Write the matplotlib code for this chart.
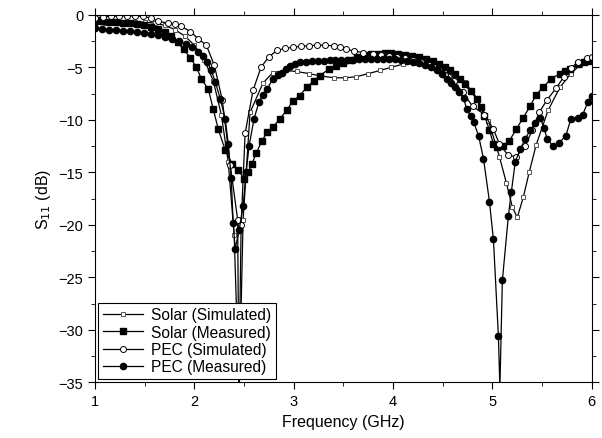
import matplotlib
matplotlib.use("Agg")
import matplotlib.pyplot as plt
from matplotlib.ticker import MultipleLocator

plt.rcParams['font.family'] = ['Liberation Sans', 'DejaVu Sans']

# Solar (Simulated) - open squares
f_solar_sim = [1.0, 1.1, 1.2, 1.3, 1.4, 1.5, 1.6, 1.7, 1.8, 1.9, 2.0, 2.1, 2.19, 2.27, 2.34,
               2.40, 2.45, 2.49, 2.56, 2.69, 2.79, 2.91, 3.03, 3.15, 3.26, 3.40, 3.52, 3.63,
               3.75, 3.87, 3.98, 4.1, 4.22, 4.34, 4.46, 4.6, 4.72, 4.84, 4.96, 5.07, 5.14,
               5.20, 5.25, 5.31, 5.37, 5.44, 5.56, 5.68, 5.79, 5.88, 5.97]
s_solar_sim = [-0.8, -0.75, -0.7, -0.65, -0.65, -0.7, -0.8, -1.0, -1.4, -2.0, -2.9, -4.3, -6.3,
               -9.5, -14.0, -21.0, -36.0, -19.5, -9.3, -6.5, -5.5, -5.3, -5.4, -5.6, -5.8, -6.0,
               -6.0, -5.9, -5.6, -5.3, -5.0, -4.7, -4.6, -4.8, -5.2, -5.8, -6.4, -7.9, -10.1,
               -13.5, -16.0, -18.3, -19.3, -17.4, -15.0, -12.4, -9.1, -6.9, -5.6, -4.8, -4.2]

# Solar (Measured) - filled squares
f_solar_meas = [1.0, 1.07, 1.14, 1.21, 1.28, 1.35, 1.42, 1.49, 1.56, 1.63, 1.70, 1.76, 1.83,
                1.89, 1.96, 2.02, 2.07, 2.14, 2.19, 2.24, 2.31, 2.38, 2.44, 2.50, 2.54, 2.58,
                2.62, 2.68, 2.73, 2.79, 2.86, 2.93, 2.99, 3.06, 3.13, 3.20, 3.26, 3.35, 3.43,
                3.50, 3.57, 3.64, 3.71, 3.78, 3.85, 3.92, 3.98, 4.05, 4.12, 4.19, 4.26, 4.33,
                4.40, 4.46, 4.52, 4.57, 4.62, 4.67, 4.72, 4.78, 4.84, 4.88, 4.92, 4.97, 5.01,
                5.05, 5.11, 5.17, 5.24, 5.31, 5.38, 5.44, 5.51, 5.59, 5.68, 5.73, 5.78, 5.86,
                5.92, 5.96, 6.0]
s_solar_meas = [-0.6, -0.6, -0.65, -0.7, -0.75, -0.8, -0.9, -1.0, -1.15, -1.35, -1.6, -2.0,
                -2.6, -3.3, -4.1, -5.0, -6.1, -7.1, -9.0, -10.9, -12.9, -14.2, -14.8, -15.6,
                -15.0, -14.2, -13.2, -12.0, -11.2, -10.7, -9.9, -9.1, -8.2, -7.7, -6.9, -6.3,
                -5.8, -5.2, -4.9, -4.6, -4.3, -4.0, -3.85, -3.75, -3.7, -3.65, -3.6, -3.7,
                -3.8, -3.9, -4.0, -4.2, -4.4, -4.7, -5.0, -5.3, -5.6, -6.1, -6.6, -7.3, -8.0,
                -8.8, -9.6, -11.0, -12.3, -12.6, -12.5, -12.0, -10.9, -9.8, -8.7, -7.6, -6.9,
                -6.1, -5.6, -5.4, -5.2, -4.7, -4.5, -4.4, -4.3]

# PEC (Simulated) - open circles
f_pec_sim = [1.0, 1.08, 1.16, 1.24, 1.32, 1.40, 1.48, 1.56, 1.63, 1.73, 1.80, 1.86, 1.96, 2.04,
             2.12, 2.20, 2.28, 2.36, 2.435, 2.447, 2.47, 2.51, 2.59, 2.67, 2.75, 2.83, 2.91,
             2.99, 3.07, 3.15, 3.23, 3.31, 3.40, 3.47, 3.53, 3.61, 3.70, 3.80, 3.88, 3.96,
             4.04, 4.12, 4.20, 4.28, 4.36, 4.44, 4.52, 4.61, 4.70, 4.80, 4.92, 5.01, 5.07,
             5.16, 5.24, 5.33, 5.40, 5.47, 5.55, 5.64, 5.72, 5.79, 5.86, 5.95, 6.0]
s_pec_sim = [-0.3, -0.2, -0.15, -0.1, -0.1, -0.1, -0.15, -0.3, -0.6, -0.8, -0.9, -1.05, -1.6,
             -2.3, -2.9, -4.8, -8.1, -14.3, -19.5, -35.5, -20.0, -11.3, -7.2, -5.0, -4.0, -3.4,
             -3.2, -3.1, -3.0, -2.95, -2.9, -2.9, -2.95, -3.1, -3.3, -3.45, -3.6, -3.75,
             -3.85, -3.95, -4.05, -4.15, -4.3, -4.5, -4.8, -5.2, -5.7, -6.3, -7.4, -8.7,
             -9.5, -10.9, -12.3, -13.4, -13.5, -12.5, -11.0, -9.3, -8.1, -7.0, -5.9, -5.1,
             -4.5, -4.1, -4.0]

# PEC (Measured) - filled circles
f_pec_meas = [1.0, 1.07, 1.14, 1.21, 1.28, 1.35, 1.42, 1.49, 1.56, 1.63, 1.70, 1.77, 1.84,
              1.91, 1.98, 2.04, 2.09, 2.13, 2.17, 2.21, 2.26, 2.31, 2.34, 2.37, 2.39, 2.41,
              2.45, 2.49, 2.52, 2.55, 2.60, 2.65, 2.69, 2.73, 2.79, 2.84, 2.88, 2.92, 2.96,
              3.01, 3.06, 3.12, 3.18, 3.24, 3.30, 3.36, 3.42, 3.48, 3.54, 3.60, 3.66, 3.72,
              3.78, 3.84, 3.90, 3.96, 4.02, 4.08, 4.14, 4.20, 4.26, 4.32, 4.38, 4.44, 4.49,
              4.54, 4.58, 4.62, 4.66, 4.71, 4.74, 4.78, 4.81, 4.86, 4.91, 4.97, 5.01, 5.06,
              5.075, 5.10, 5.16, 5.19, 5.23, 5.28, 5.33, 5.38, 5.43, 5.48, 5.52, 5.55, 5.61,
              5.67, 5.74, 5.79, 5.86, 5.91, 5.96, 6.0]
s_pec_meas = [-1.3, -1.35, -1.4, -1.45, -1.5, -1.55, -1.6, -1.7, -1.8, -1.95, -2.1, -2.3,
              -2.5, -2.8, -3.1, -3.5, -3.9, -4.5, -5.3, -6.4, -8.0, -9.9, -12.3, -15.5,
              -19.8, -22.3, -20.5, -18.2, -15.0, -12.5, -9.9, -8.3, -7.6, -7.1, -6.1, -5.7,
              -5.5, -5.2, -4.9, -4.7, -4.5, -4.45, -4.4, -4.4, -4.4, -4.35, -4.3, -4.3,
              -4.3, -4.3, -4.25, -4.2, -4.2, -4.2, -4.2, -4.2, -4.25, -4.3, -4.4, -4.5,
              -4.6, -4.8, -5.0, -5.3, -5.6, -6.1, -6.5, -6.9, -7.4, -7.9, -9.0, -9.6, -10.2,
              -11.5, -13.7, -17.8, -21.4, -30.6, -35.5, -25.3, -19.2, -16.9, -14.0, -12.8,
              -11.8, -11.0, -10.3, -9.8, -10.8, -11.8, -12.5, -12.2, -11.5, -9.9, -9.8,
              -9.5, -8.3, -7.7]

fig = plt.figure(figsize=(6.02, 4.39), dpi=100)
ax = fig.add_axes([0.158, 0.127, 0.825, 0.837])

ax.plot(f_solar_sim, s_solar_sim, '-s', color='black', lw=0.9, ms=3.2,
        mfc='white', mec='#555555', mew=0.7, label='Solar (Simulated)')
ax.plot(f_solar_meas, s_solar_meas, '-s', color='black', lw=0.9, ms=4.3,
        mfc='black', mec='black', label='Solar (Measured)')
ax.plot(f_pec_sim, s_pec_sim, '-o', color='black', lw=0.9, ms=4.3,
        mfc='white', mec='black', mew=0.7, label='PEC (Simulated)')
ax.plot(f_pec_meas, s_pec_meas, '-o', color='black', lw=0.9, ms=4.5,
        mfc='black', mec='black', label='PEC (Measured)')

ax.set_xlim(1, 6)
ax.set_ylim(-35, 0)
ax.xaxis.set_major_locator(MultipleLocator(1))
ax.xaxis.set_minor_locator(MultipleLocator(0.5))
ax.yaxis.set_major_locator(MultipleLocator(5))
ax.yaxis.set_minor_locator(MultipleLocator(2.5))
ax.tick_params(which='both', direction='out', top=True, right=True,
               labeltop=False, labelright=False, labelsize=10.5)
ax.tick_params(which='major', length=5)
ax.tick_params(which='minor', length=3)

ax.set_xlabel('Frequency (GHz)', fontsize=11.5)
ax.set_ylabel('S$_{11}$ (dB)', fontsize=11.5)

leg = ax.legend(loc='lower left', fontsize=11.2, fancybox=False, framealpha=1,
                edgecolor='black', handlelength=2.6, borderaxespad=0.2,
                labelspacing=0.15, borderpad=0.3, handletextpad=0.5)
leg.get_frame().set_linewidth(0.8)

fig.savefig('out.png', dpi=100)
